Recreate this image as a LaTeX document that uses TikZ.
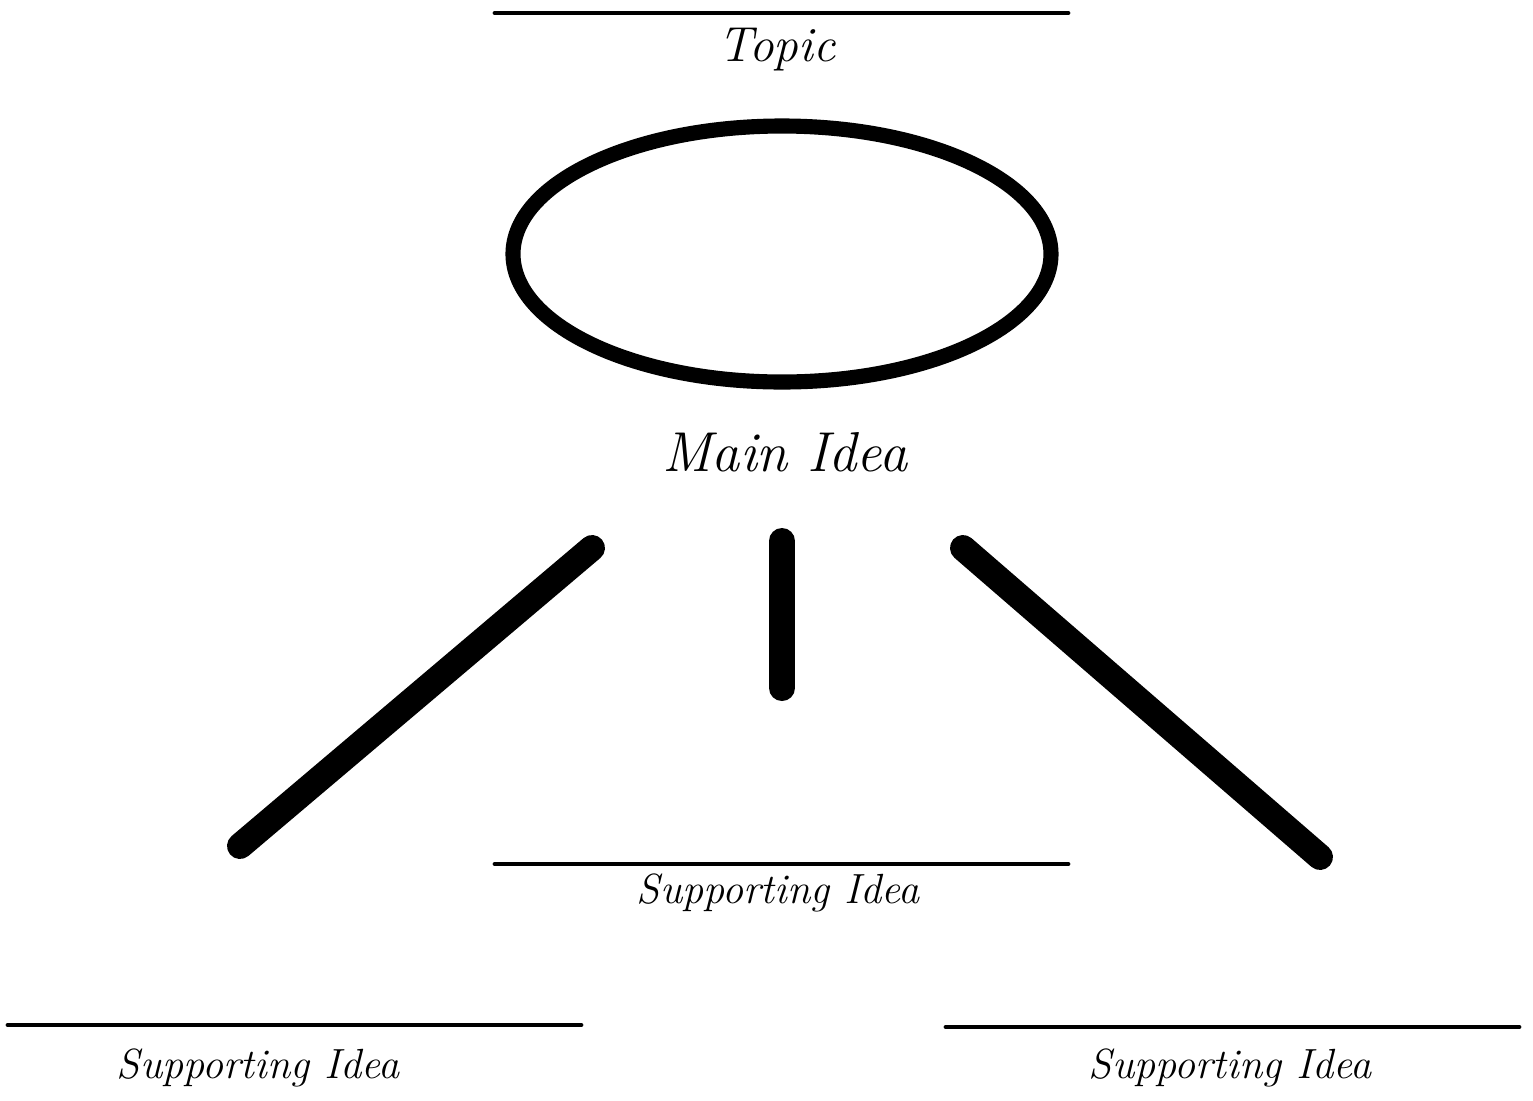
\documentclass[tikz,border=0pt]{standalone}
\usepackage{tikz}
\usetikzlibrary{positioning, shapes.geometric}
\tikzset{
  %% writing line (thin, rounded ends)
  blank/.style={
    line width=1.4pt, line cap=round, color=black
  },
  %% thick branch stroke
  branch/.style={
    line width=7.4pt, line cap=round, color=black
  },
  %% main idea oval
  oval/.style={
    ellipse, draw, line width=4.3pt,
    minimum width=5.38cm, minimum height=2.56cm,
    inner sep=0pt, fill=white
  },
  hand/.style={
    font=\itshape, text=black, inner sep=0pt
  },
  lblTopic/.style={hand, font=\fontsize{14}{16}\selectfont\itshape},
  lblMain/.style={hand, font=\fontsize{16}{18}\selectfont\itshape},
  lblSupp/.style={hand, font=\fontsize{12}{14}\selectfont\itshape}
}

\begin{document}
\begin{tikzpicture}[x=0.1mm, y=-0.1mm]

\useasboundingbox (0,0) rectangle (1533,1101);

%% ═══════════════════════════════════════════════════════════
%%  TOPIC
%% ═══════════════════════════════════════════════════════════

\coordinate (topicL) at (495,13);
\coordinate (topicR) at (1068,13);
\draw[blank] (topicL) -- (topicR);
\node[lblTopic] (topic) at (777,50) {Topic};

%% ═══════════════════════════════════════════════════════════
%%  MAIN IDEA
%% ═══════════════════════════════════════════════════════════

\node[oval] (main) at (782,254) {};
\node[lblMain] (mainLbl) at (785,452) {Main Idea};

%% ═══════════════════════════════════════════════════════════
%%  BRANCHES
%% ═══════════════════════════════════════════════════════════

\coordinate (brLtop) at (592,548);
\coordinate (brLbot) at (240,846);
\coordinate (brMtop) at (782,541);
\coordinate (brMbot) at (782,688);
\coordinate (brRtop) at (963,548);
\coordinate (brRbot) at (1320,857);

\draw[branch] (brLtop) -- (brLbot);
\draw[branch] (brMtop) -- (brMbot);
\draw[branch] (brRtop) -- (brRbot);

%% ═══════════════════════════════════════════════════════════
%%  SUPPORTING IDEAS
%% ═══════════════════════════════════════════════════════════

% middle
\coordinate (suppML) at (495,864);
\coordinate (suppMR) at (1068,864);
\draw[blank] (suppML) -- (suppMR);
\node[lblSupp] (suppM) at (778,893) {Supporting Idea};

% left
\coordinate (suppLL) at (8,1025);
\coordinate (suppLR) at (581,1025);
\draw[blank] (suppLL) -- (suppLR);
\node[lblSupp] (suppL) at (258,1068) {Supporting Idea};

% right
\coordinate (suppRL) at (946,1027);
\coordinate (suppRR) at (1519,1027);
\draw[blank] (suppRL) -- (suppRR);
\node[lblSupp] (suppR) at (1230,1068) {Supporting Idea};

\end{tikzpicture}
\end{document}
